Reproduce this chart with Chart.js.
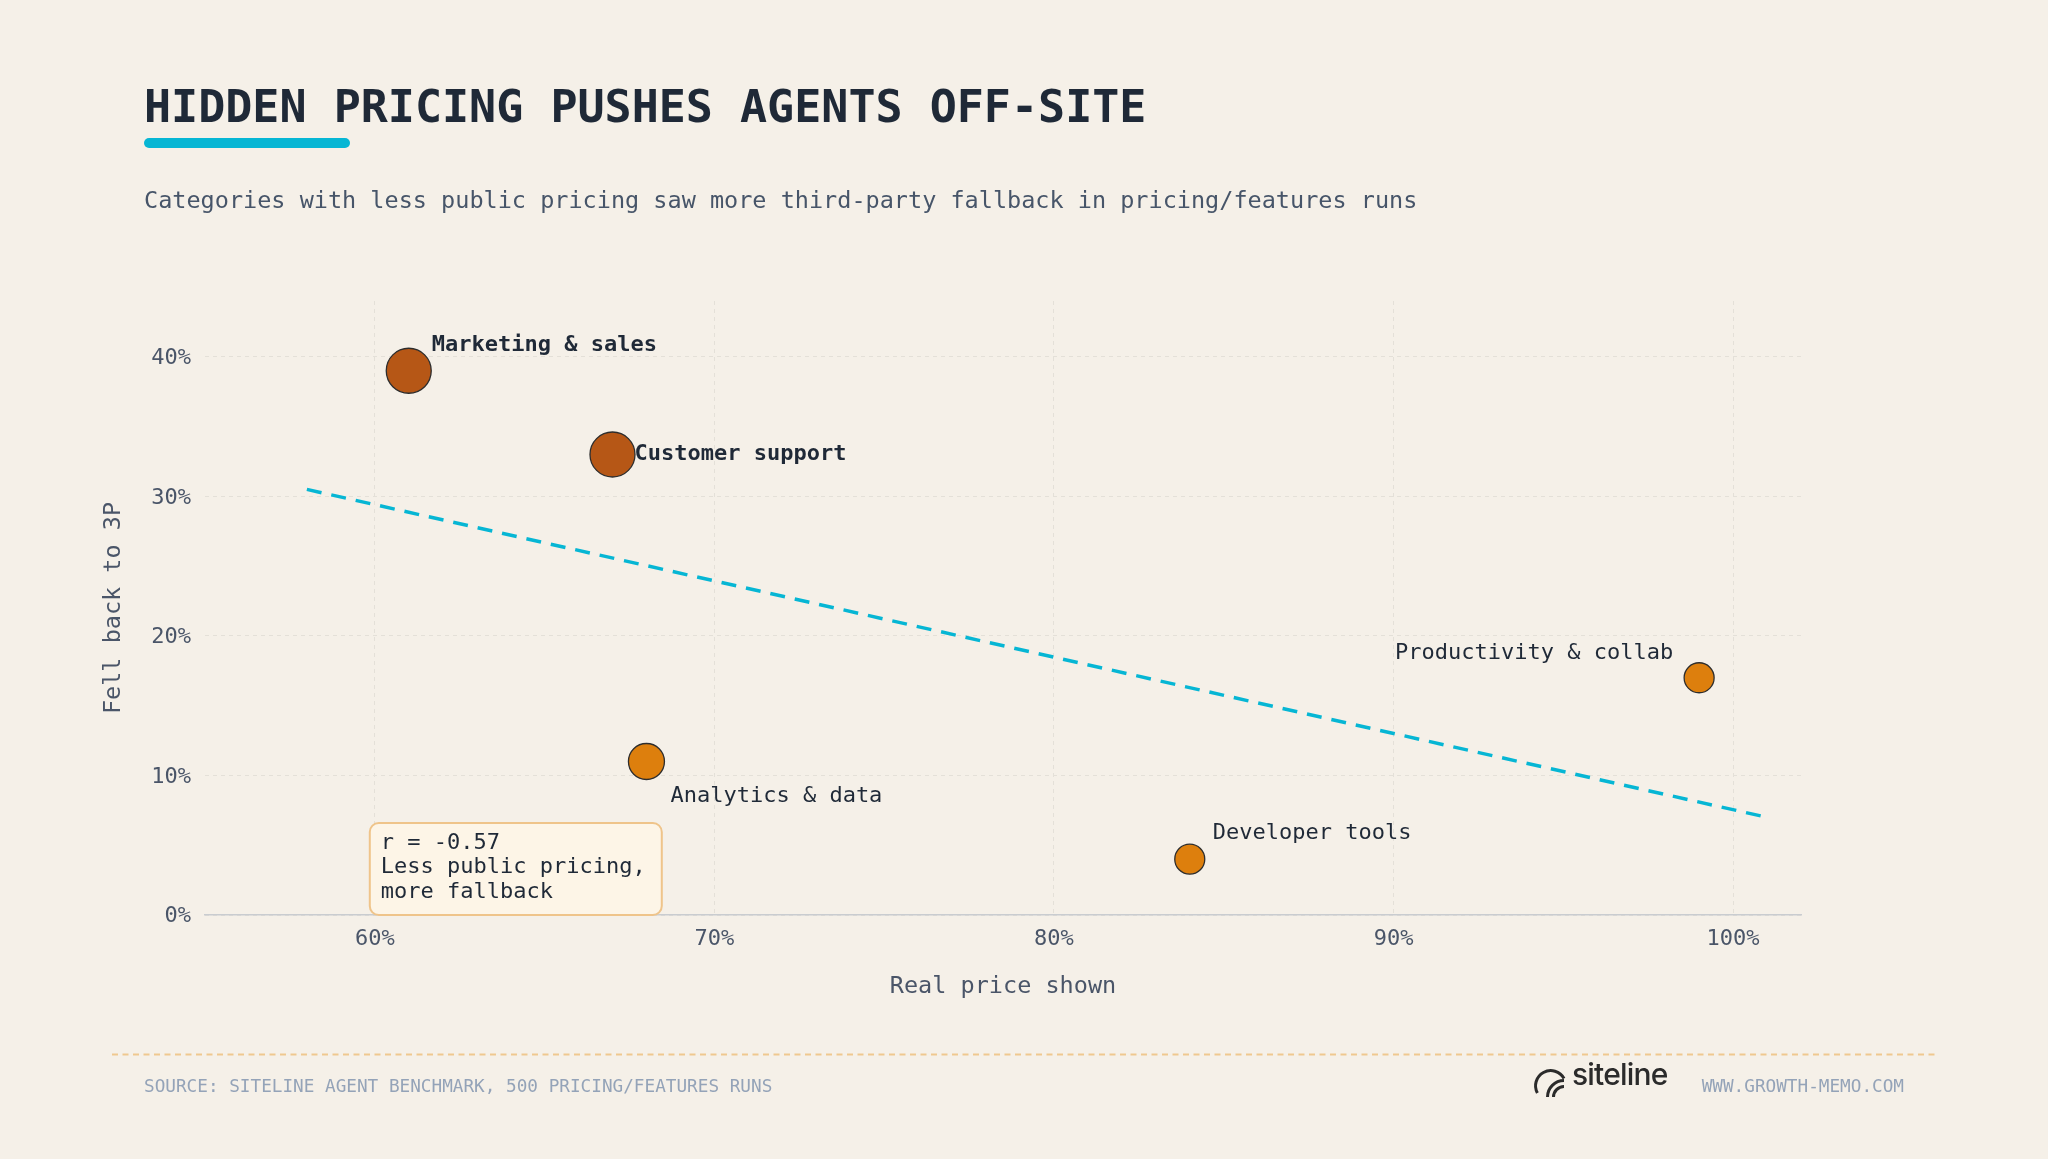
<!DOCTYPE html>
<html>
<head>
<meta charset="utf-8">
<script src="https://cdn.jsdelivr.net/npm/chart.js@4.4.1/dist/chart.umd.min.js"></script>
<style>
  html, body { margin: 0; padding: 0; }
  body { width: 2048px; height: 1159px; background: #f5f0e8; position: relative; overflow: hidden;
         font-family: "DejaVu Sans Mono", monospace; }
  #chart { position: absolute; left: 0; top: 0; }
  .txt { position: absolute; white-space: pre; line-height: 1; }
  #title { left: 144px; top: 83.5px; font-size: 45px; font-weight: bold; color: #1f2937; }
  #bar { position: absolute; left: 144px; top: 138px; width: 206px; height: 10px; border-radius: 5px; background: #06b6d4; }
  #subtitle { left: 144px; top: 189px; font-size: 23.5px; color: #475569; }
  #source { left: 144px; top: 1077.5px; font-size: 17.7px; color: #94a3b8; }
  #url { right: 144px; top: 1077.5px; font-size: 17.7px; color: #94a3b8; }
  #logo { left: 1572px; top: 1059px; font-family: Inter, "Noto Sans", sans-serif; font-size: 30px; font-weight: 500;
          letter-spacing: -0.8px; color: #2b2b2b; }
  #overlay { position: absolute; left: 0; top: 0; }
</style>
</head>
<body>
<canvas id="chart" width="2048" height="1159"></canvas>
<div id="title" class="txt">HIDDEN PRICING PUSHES AGENTS OFF-SITE</div>
<div id="bar"></div>
<div id="subtitle" class="txt">Categories with less public pricing saw more third-party fallback in pricing/features runs</div>
<svg id="overlay" width="2048" height="1159">
  <line x1="112" y1="1054.5" x2="1936" y2="1054.5" stroke="#efc88f" stroke-width="2" stroke-dasharray="6 4.5"/>
  <g fill="none" stroke="#2b2b2b" stroke-width="3">
    <path d="M 1537.4 1093 A 15 15 0 1 1 1564 1078.5"/>
    <path d="M 1547.5 1097 A 16.5 16.5 0 0 1 1564 1080.5"/>
    <path d="M 1553.5 1097 A 10.5 10.5 0 0 1 1564 1086.5"/>
  </g>
</svg>
<div id="source" class="txt">SOURCE: SITELINE AGENT BENCHMARK, 500 PRICING/FEATURES RUNS</div>
<div id="logo" class="txt">siteline</div>
<div id="url" class="txt">WWW.GROWTH-MEMO.COM</div>
<script>
// values
const categories = ['Marketing & sales', 'Customer support', 'Analytics & data', 'Developer tools', 'Productivity & collab'];
const realPriceShown = [61, 67, 68, 84, 99];   // x, %
const fellBackTo3P = [39, 33, 11, 4, 17];      // y, %
const trendX = [58, 101];
const trendY = [30.5, 7];
const noteLines = ['r = -0.57', 'Less public pricing,', 'more fallback'];

// styling per point
const pointRadii = [22.5, 22.5, 18, 15, 15];
const pointColors = ['#b65716', '#b65716', '#dd7f0d', '#dd7f0d', '#dd7f0d'];
const labelStyle = [
  { dx: 23, dy: -25, align: 'left', bold: true },
  { dx: 22, dy: 0, align: 'left', bold: true },
  { dx: 24, dy: 35, align: 'left', bold: false },
  { dx: 23, dy: -26, align: 'left', bold: false },
  { dx: -26, dy: -24, align: 'right', bold: false }
];

const FONT = '"DejaVu Sans Mono", monospace';
const INK = '#1f2937';
const AXIS_INK = '#4a5568';
Chart.defaults.font.family = FONT;

const labelsPlugin = {
  id: 'labelsPlugin',
  afterDatasetsDraw(chart) {
    const ctx = chart.ctx;
    const pts = chart.getDatasetMeta(1).data;
    pts.forEach(function (pt, i) {
      const s = labelStyle[i];
      ctx.save();
      ctx.font = (s.bold ? 'bold ' : '') + '22px ' + FONT;
      ctx.fillStyle = INK;
      ctx.textAlign = s.align;
      ctx.textBaseline = 'middle';
      ctx.fillText(categories[i], pt.x + s.dx, pt.y + s.dy);
      ctx.restore();
    });

    // correlation note, sitting on the x axis at 60%
    const xs = chart.scales.x, ys = chart.scales.y;
    const x0 = xs.getPixelForValue(60) - 5;
    const y1 = ys.getPixelForValue(0);
    const w = 292, h = 92;
    ctx.save();
    ctx.beginPath();
    ctx.roundRect(x0, y1 - h, w, h, 9);
    ctx.fillStyle = '#fdf5e7';
    ctx.fill();
    ctx.lineWidth = 2;
    ctx.strokeStyle = '#efc48a';
    ctx.stroke();
    ctx.font = '22px ' + FONT;
    ctx.fillStyle = INK;
    ctx.textAlign = 'left';
    ctx.textBaseline = 'middle';
    noteLines.forEach(function (t, i) {
      ctx.fillText(t, x0 + 11, y1 - h + 20 + i * 24.7);
    });
    ctx.restore();
  }
};

new Chart(document.getElementById('chart'), {
  type: 'scatter',
  data: {
    datasets: [
      {
        type: 'line',
        data: trendX.map(function (x, i) { return { x: x, y: trendY[i] }; }),
        borderColor: '#06b6d4',
        borderWidth: 3.5,
        borderDash: [15, 10],
        pointRadius: 0,
        fill: false,
        order: 2
      },
      {
        data: realPriceShown.map(function (x, i) { return { x: x, y: fellBackTo3P[i] }; }),
        pointRadius: pointRadii,
        pointBackgroundColor: pointColors,
        pointBorderColor: '#2d2d2d',
        pointBorderWidth: 1.3,
        order: 1
      }
    ]
  },
  options: {
    responsive: false,
    animation: false,
    events: [],
    layout: { padding: { left: 0, top: 301, right: 247, bottom: 118 } },
    plugins: { legend: { display: false }, tooltip: { enabled: false } },
    scales: {
      x: {
        type: 'linear', min: 55, max: 102,
        afterFit: function (s) { s.height = 126; },
        ticks: { stepSize: 10, includeBounds: false, padding: 11, color: AXIS_INK, font: { size: 22 },
                 callback: function (v) { return v + '%'; } },
        grid: { color: '#e4e0d8', lineWidth: 1, drawTicks: false },
        border: { display: true, color: '#c9ccd0', width: 1.5, dash: [4, 4] },
        title: { display: true, text: 'Real price shown', color: AXIS_INK, font: { size: 23.5 },
                 padding: { top: 0, bottom: 40 } }
      },
      y: {
        type: 'linear', min: 0, max: 44,
        afterFit: function (s) { s.width = 205; },
        ticks: { stepSize: 10, includeBounds: false, padding: 14, labelOffset: 1.5, color: AXIS_INK, font: { size: 22 },
                 callback: function (v) { return v + '%'; } },
        grid: { color: '#e4e0d8', lineWidth: 1, drawTicks: false },
        border: { display: false, dash: [4, 4] },
        title: { display: true, text: 'Fell back to 3P', color: AXIS_INK, font: { size: 23.5 },
                 padding: { top: 99.5, bottom: 0 } }
      }
    }
  },
  plugins: [labelsPlugin]
});
</script>
</body>
</html>
